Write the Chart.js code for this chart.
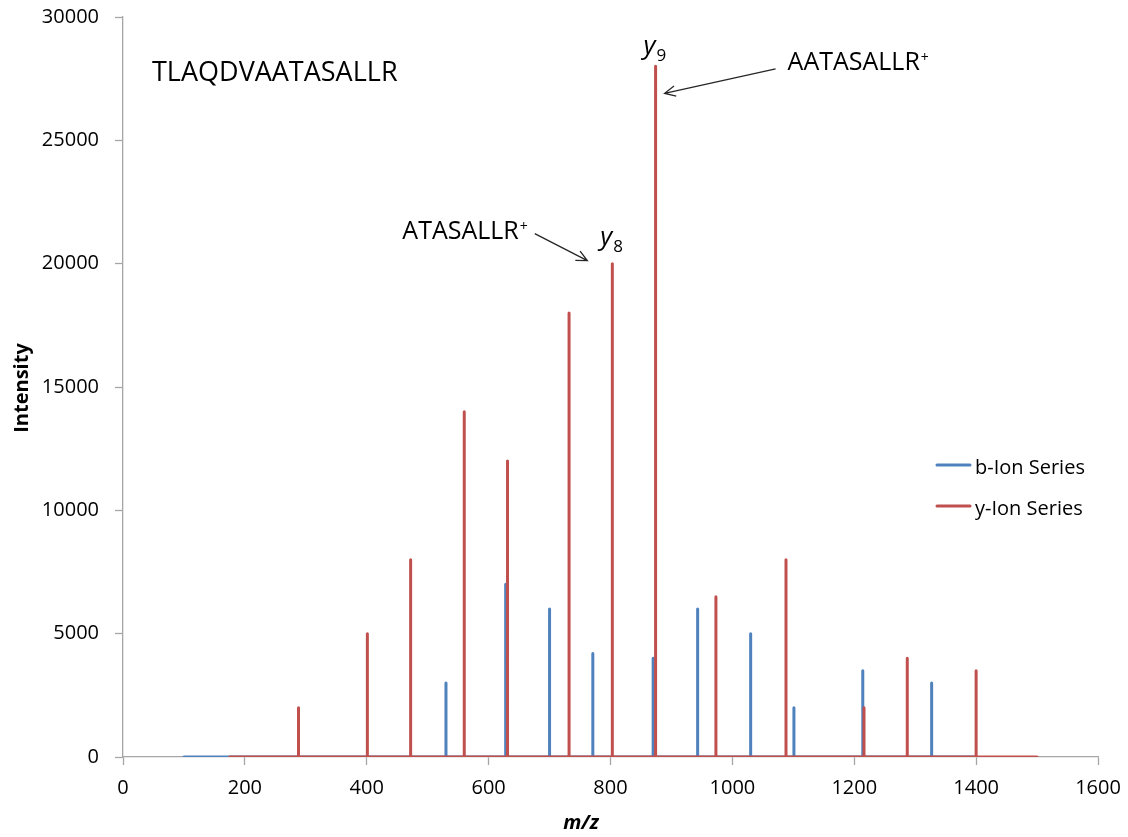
<!DOCTYPE html>
<html>
<head>
<meta charset="utf-8">
<title>TLAQDVAATASALLR fragment spectrum</title>
<script src="https://cdn.jsdelivr.net/npm/chart.js@4.4.0/dist/chart.umd.min.js"></script>
<style>
  html, body { margin: 0; padding: 0; background: #ffffff; }
  #wrap { width: 1128px; height: 837px; }
  canvas { display: block; }
</style>
</head>
<body>
<div id="wrap"><canvas id="spectrum" width="1128" height="837"></canvas></div>
<script>
// Peptide and fragment ion peaks (m/z, intensity)
const peptide = 'TLAQDVAATASALLR';

const bMz        = [530, 628, 700, 771, 870, 943, 1030, 1101, 1214, 1327];
const bIntensity = [3000, 7000, 6000, 4200, 4000, 6000, 5000, 2000, 3500, 3000];
const bRange     = [100, 1400];

const yMz        = [288, 401, 472, 560, 631, 732, 803, 874, 973, 1088, 1216, 1287, 1400];
const yIntensity = [2000, 5000, 8000, 14000, 12000, 18000, 20000, 28000, 6500, 8000, 2000, 4000, 3500];
const yRange     = [175, 1500];

const seriesNames = ['b-Ion Series', 'y-Ion Series'];

// Labelled y ions: ion number, fragment sequence, index into yMz
const labelledIons = [
  { ion: '9', fragment: 'AATASALLR', index: 7 },
  { ion: '8', fragment: 'ATASALLR',  index: 6 }
];

const xTickMin = 0, xTickMax = 1600, xTickStep = 200;
const yTickMin = 0, yTickMax = 30000, yTickStep = 5000;

const BLUE = '#4F81BD';
const RED = '#C0504D';
const AXIS_GREY = '#A6A6A6';
const FONT = '"Open Sans", "Noto Sans", sans-serif';

// Each peak is drawn as a vertical stick rising from the baseline
function stickSeries(mz, intensity, range) {
  const pts = [{ x: range[0], y: 0 }];
  mz.forEach((m, i) => {
    pts.push({ x: m, y: 0 }, { x: m, y: intensity[i] }, { x: m, y: 0 });
  });
  pts.push({ x: range[1], y: 0 });
  return pts;
}

function arrow(ctx, x1, y1, x2, y2) {
  const ang = Math.atan2(y2 - y1, x2 - x1);
  const head = 12, spread = 0.45;
  ctx.beginPath();
  ctx.moveTo(x1, y1);
  ctx.lineTo(x2, y2);
  ctx.moveTo(x2 - head * Math.cos(ang - spread), y2 - head * Math.sin(ang - spread));
  ctx.lineTo(x2, y2);
  ctx.lineTo(x2 - head * Math.cos(ang + spread), y2 - head * Math.sin(ang + spread));
  ctx.stroke();
}

const annotationPlugin = {
  id: 'spectrumAnnotations',
  afterDatasetsDraw(chart) {
    const { ctx, scales: { x, y } } = chart;
    ctx.save();
    ctx.fillStyle = '#000';
    ctx.textBaseline = 'alphabetic';
    ctx.textAlign = 'left';

    // Peptide sequence
    ctx.font = '27px ' + FONT;
    ctx.fillText(peptide, 152, 81);

    // Ion labels (italic y with subscript number) and fragment call-outs
    labelledIons.forEach((lab, k) => {
      const px = x.getPixelForValue(yMz[lab.index]);
      const py = y.getPixelForValue(yIntensity[lab.index]);

      const lx = px - 12;
      const lb = k === 0 ? py - 12 : py - 19;
      ctx.font = 'italic 26px ' + FONT;
      ctx.fillText('y', lx, lb);
      const yw = ctx.measureText('y').width;
      ctx.font = '17px ' + FONT;
      ctx.fillText(lab.ion, lx + yw + 1, lb + 7);

      ctx.font = '25px ' + FONT;
      let tx, tb;
      if (k === 0) { tx = px + 132; tb = py + 3.5; }
      else { tx = px - 210; tb = py - 25; }
      ctx.fillText(lab.fragment, tx, tb);
      const fw = ctx.measureText(lab.fragment).width;
      ctx.font = '14px ' + FONT;
      ctx.fillText('+', tx + fw + 1, tb - 8);

      ctx.strokeStyle = '#262626';
      ctx.lineWidth = 1.3;
      if (k === 0) arrow(ctx, tx - 12, tb - 1, px + 9, py + 27);
      else arrow(ctx, tx + fw + 16, tb - 5, px - 25, py - 3);
    });

    // Axis titles
    ctx.font = 'bold 20px ' + FONT;
    ctx.save();
    ctx.translate(22, 388);
    ctx.rotate(-Math.PI / 2);
    ctx.textAlign = 'center';
    ctx.textBaseline = 'middle';
    ctx.fillText('Intensity', 0, 0);
    ctx.restore();

    ctx.font = 'italic bold 20px ' + FONT;
    ctx.textAlign = 'center';
    ctx.fillText('m/z', 581, 829);

    // Legend
    const colors = [BLUE, RED];
    const legendY = [465, 506];
    ctx.textAlign = 'left';
    ctx.font = '20px ' + FONT;
    seriesNames.forEach((name, i) => {
      ctx.strokeStyle = colors[i];
      ctx.lineWidth = 3;
      ctx.lineCap = 'round';
      ctx.beginPath();
      ctx.moveTo(937, legendY[i]);
      ctx.lineTo(970, legendY[i]);
      ctx.stroke();
      ctx.fillStyle = '#000';
      ctx.fillText(name, 975, legendY[i] + 9);
    });
    ctx.restore();
  }
};

const plainNumber = v => String(v);

new Chart(document.getElementById('spectrum'), {
  type: 'line',
  data: {
    datasets: [
      {
        label: seriesNames[0],
        data: stickSeries(bMz, bIntensity, bRange),
        borderColor: BLUE,
        backgroundColor: BLUE,
        borderWidth: 3,
        borderCapStyle: 'round',
        borderJoinStyle: 'round',
        pointRadius: 0,
        tension: 0,
        fill: false,
        order: 1
      },
      {
        label: seriesNames[1],
        data: stickSeries(yMz, yIntensity, yRange),
        borderColor: RED,
        backgroundColor: RED,
        borderWidth: 3,
        borderCapStyle: 'round',
        borderJoinStyle: 'round',
        pointRadius: 0,
        tension: 0,
        fill: false,
        order: 0
      }
    ]
  },
  options: {
    responsive: false,
    animation: false,
    events: [],
    layout: { padding: { left: 0, top: 17, right: 30, bottom: 0 } },
    plugins: {
      legend: { display: false },
      tooltip: { enabled: false },
      title: { display: false }
    },
    scales: {
      x: {
        type: 'linear',
        min: xTickMin,
        max: xTickMax,
        ticks: {
          stepSize: xTickStep,
          padding: 11,
          color: '#000',
          font: { family: FONT, size: 20 },
          maxRotation: 0,
          callback: plainNumber
        },
        grid: { drawOnChartArea: false, drawTicks: true, tickLength: 8, color: AXIS_GREY, tickWidth: 1.3 },
        border: { display: true, color: AXIS_GREY, width: 1.3 },
        afterFit(scale) {
          scale.height = 80;
          scale.paddingLeft = 0;
          scale.paddingRight = 0;
        }
      },
      y: {
        type: 'linear',
        min: yTickMin,
        max: yTickMax,
        ticks: {
          stepSize: yTickStep,
          padding: 16,
          color: '#000',
          font: { family: FONT, size: 20 },
          callback: plainNumber
        },
        grid: { drawOnChartArea: false, drawTicks: true, tickLength: 8, color: AXIS_GREY, tickWidth: 1.3 },
        border: { display: true, color: AXIS_GREY, width: 1.3 },
        afterFit(scale) {
          scale.width = 123;
          scale.paddingTop = 0;
          scale.paddingBottom = 0;
        }
      }
    }
  },
  plugins: [annotationPlugin]
});
</script>
</body>
</html>
